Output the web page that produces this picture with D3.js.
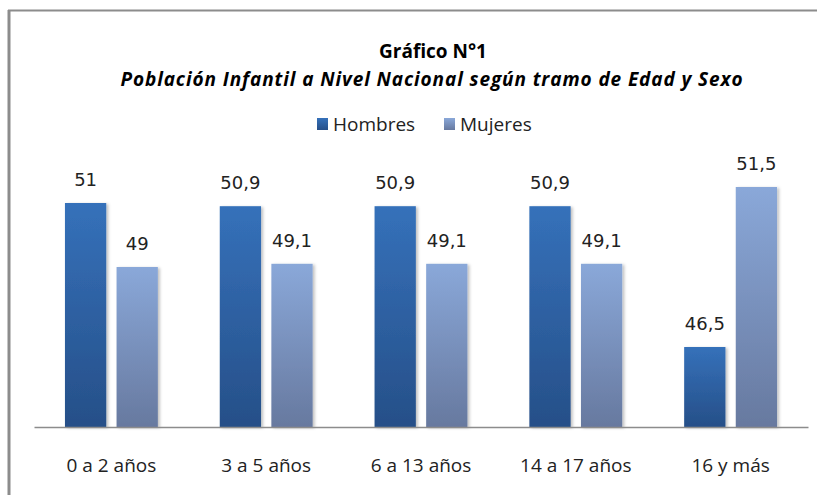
<!DOCTYPE html>
<html>
<head>
<meta charset="utf-8">
<script src="https://cdn.jsdelivr.net/npm/d3@7"></script>
<style>
  body { margin: 0; background: #fff; }
  svg { display: block; }
</style>
</head>
<body>
<div id="chart"></div>
<script>
// data
const categories = ['0 a 2 años', '3 a 5 años', '6 a 13 años', '14 a 17 años', '16 y más']
const series = ['Hombres', 'Mujeres']
const hombres = [51, 50.9, 50.9, 50.9, 46.5]
const mujeres = [49, 49.1, 49.1, 49.1, 51.5]
const yDomain = [44, 52]

const width = 817
const height = 495
const fmt = v => String(v).replace('.', ',')

const svg = d3.select('#chart').append('svg')
  .attr('width', width)
  .attr('height', height)

const defs = svg.append('defs')
const grads = {
  Hombres: ['#3571ba', '#264f88'],
  Mujeres: ['#8aa8d9', '#67799f']
}
Object.keys(grads).forEach(k => {
  const g = defs.append('linearGradient')
    .attr('id', 'g-' + k)
    .attr('x1', 0).attr('y1', 0).attr('x2', 0).attr('y2', 1)
  g.append('stop').attr('offset', '0%').attr('stop-color', grads[k][0])
  g.append('stop').attr('offset', '100%').attr('stop-color', grads[k][1])
})
const shadow = defs.append('filter').attr('id', 'shadow')
  .attr('x', '-20%').attr('y', '-5%').attr('width', '150%').attr('height', '115%')
shadow.append('feDropShadow')
  .attr('dx', 2).attr('dy', 1).attr('stdDeviation', 1.5)
  .attr('flood-color', '#000').attr('flood-opacity', 0.25)

// frame (top and left edges only visible)
svg.append('line').attr('x1', 8).attr('x2', 817).attr('y1', 10.5).attr('y2', 10.5)
  .attr('stroke', '#8c8c8c').attr('stroke-width', 2)
svg.append('line').attr('x1', 9).attr('x2', 9).attr('y1', 10).attr('y2', 495)
  .attr('stroke', '#8c8c8c').attr('stroke-width', 3)

// titles
svg.append('text')
  .attr('x', 433).attr('y', 58)
  .attr('text-anchor', 'middle')
  .style('font-family', 'Open Sans')
  .style('font-weight', 'bold')
  .style('font-size', '19px')
  .text('Gráfico N°1')
svg.append('text')
  .attr('x', 432).attr('y', 86)
  .attr('text-anchor', 'middle')
  .style('font-family', 'Open Sans')
  .style('font-weight', 'bold')
  .style('font-style', 'italic')
  .style('font-size', '19px')
  .style('letter-spacing', '0.9px')
  .text('Población Infantil a Nivel Nacional según tramo de Edad y Sexo')

// legend
const legendX = [317, 444]
const legend = svg.append('g').selectAll('g')
  .data(series)
  .enter()
  .append('g')
  .attr('transform', (d, i) => 'translate(' + legendX[i] + ',118)')
legend.append('rect')
  .attr('width', 11).attr('height', 12)
  .attr('fill', d => 'url(#g-' + d + ')')
legend.append('text')
  .attr('x', 16).attr('y', 13)
  .style('font-family', 'Open Sans')
  .style('font-size', '19px')
  .attr('fill', '#222')
  .text(d => d)

// scales
const x0 = d3.scaleBand()
  .domain(categories)
  .range([34, 808])
  .paddingInner(0.4)
  .paddingOuter(0.2)
const x1 = d3.scaleBand()
  .domain(series)
  .range([0, x0.bandwidth()])
  .paddingInner(0.2)
const y = d3.scaleLinear()
  .domain(yDomain)
  .range([427, 171])

const rows = categories.map((c, i) => ({
  cat: c,
  values: [
    { key: 'Hombres', value: hombres[i] },
    { key: 'Mujeres', value: mujeres[i] }
  ]
}))

const groups = svg.append('g').selectAll('g')
  .data(rows)
  .enter()
  .append('g')
  .attr('transform', d => 'translate(' + x0(d.cat) + ',0)')

groups.selectAll('rect')
  .data(d => d.values)
  .enter()
  .append('rect')
  .attr('x', d => x1(d.key))
  .attr('y', d => y(d.value))
  .attr('width', x1.bandwidth())
  .attr('height', d => y(yDomain[0]) - y(d.value))
  .attr('fill', d => 'url(#g-' + d.key + ')')
  .attr('filter', 'url(#shadow)')

groups.selectAll('.val')
  .data(d => d.values)
  .enter()
  .append('text')
  .attr('class', 'val')
  .attr('x', d => x1(d.key) + x1.bandwidth() / 2)
  .attr('y', d => y(d.value) - 17)
  .attr('text-anchor', 'middle')
  .style('font-family', 'DejaVu Sans')
  .style('font-size', '18px')
  .attr('fill', '#222')
  .text(d => fmt(d.value))

// x axis
const xAxis = svg.append('g')
  .attr('transform', 'translate(0,' + y(yDomain[0]) + ')')
  .call(d3.axisBottom(x0).tickSize(0).tickPadding(0))
xAxis.select('.domain').attr('stroke', '#8c8c8c').attr('stroke-width', 1.5)
xAxis.selectAll('text')
  .attr('y', 45)
  .attr('dy', 0)
  .style('font-family', 'Open Sans')
  .style('font-size', '19px')
  .attr('fill', '#222')
</script>
</body>
</html>
